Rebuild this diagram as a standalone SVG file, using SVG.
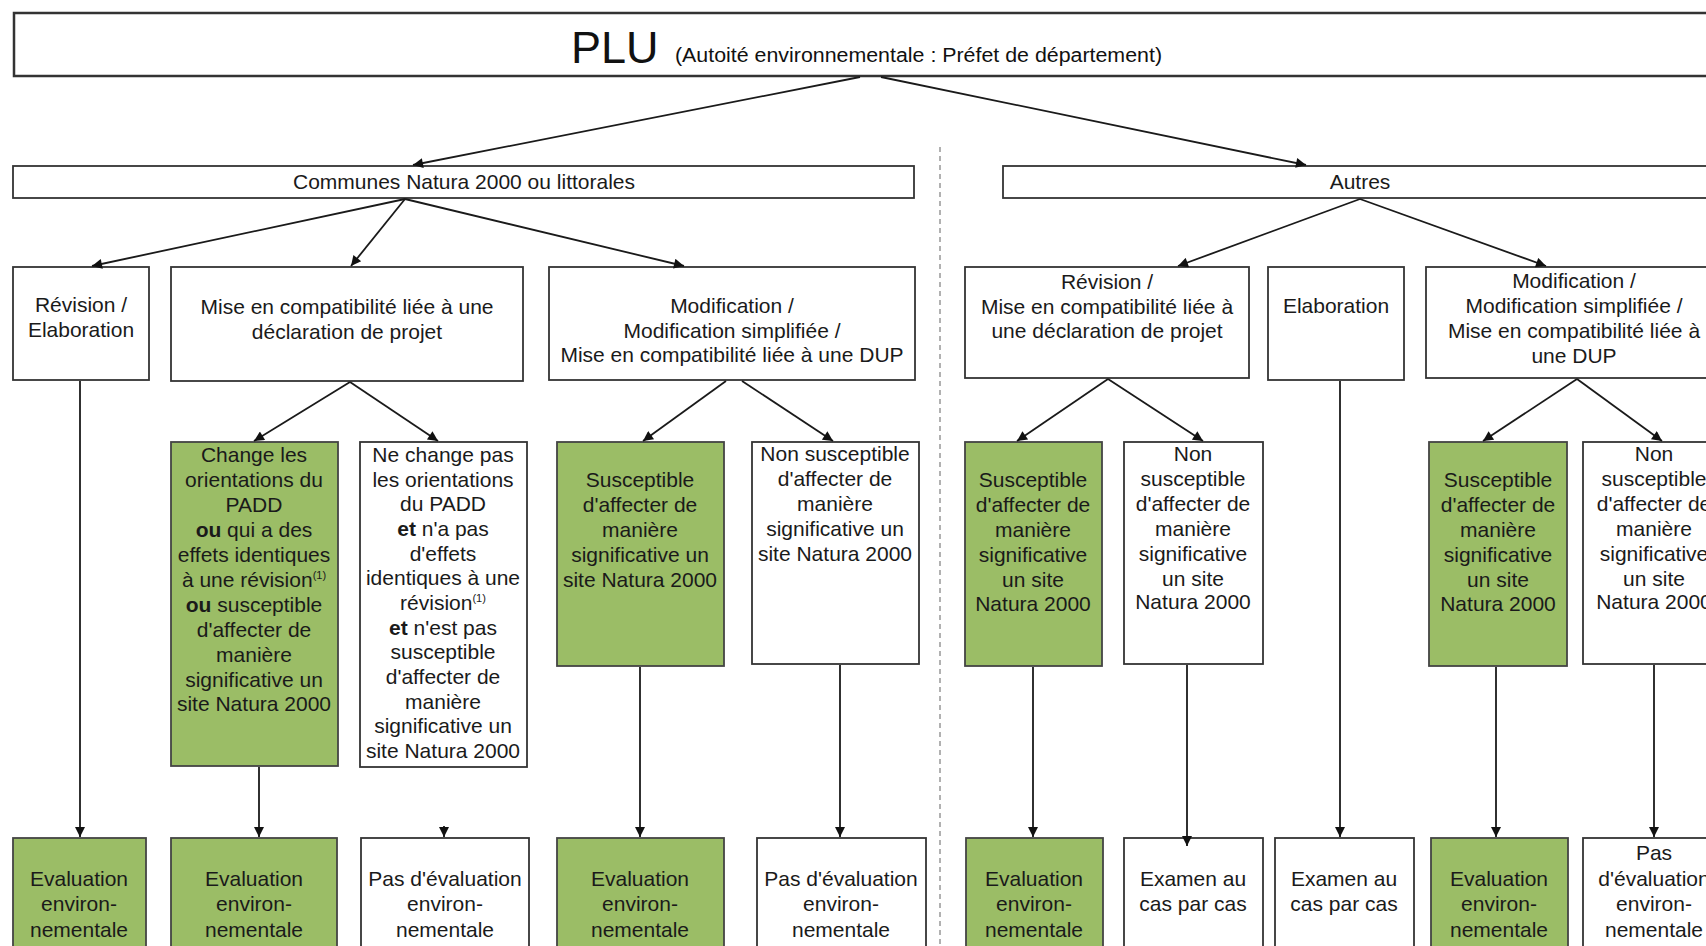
<svg xmlns="http://www.w3.org/2000/svg" width="1706" height="946" viewBox="0 0 1706 946">
<defs>
<style>
.box{fill:#fff;stroke:#333;stroke-width:1.8}
.g{fill:#9bbd66;stroke:#444;stroke-width:1.8}
.t{font-family:"Liberation Sans",Arial,sans-serif;font-size:21px;fill:#1a1a1a;text-anchor:middle}
.b{font-weight:bold}
.sup{font-size:11px}
.c{stroke:#1a1a1a;stroke-width:1.8;fill:none;marker-end:url(#ah)}
</style>
<marker id="ah" viewBox="0 0 10 10" refX="10" refY="5" markerWidth="12" markerHeight="10" markerUnits="userSpaceOnUse" orient="auto">
<path d="M0,0 L10,5 L0,10 z" fill="#111"/>
</marker>
</defs>
<rect width="1706" height="946" fill="#fff"/>

<line x1="940" y1="147" x2="940" y2="946" stroke="#888" stroke-width="1.3" stroke-dasharray="5,4"/>

<g id="plu">
<rect x="14" y="13" width="1720" height="63" fill="#fff" stroke="#333" stroke-width="2.5"/>
<text x="571" y="63" font-family="'Liberation Sans',Arial,sans-serif" font-size="45" fill="#111">PLU</text>
<text x="675" y="62" font-family="'Liberation Sans',Arial,sans-serif" font-size="20" fill="#111" textLength="487" lengthAdjust="spacingAndGlyphs">(Autoité environnementale : Préfet de département)</text>
</g>

<g id="communes">
<rect class="box" x="13" y="166" width="901" height="32"/>
<text class="t" x="464" y="189">Communes Natura 2000 ou littorales</text>
</g>
<g id="autres">
<rect class="box" x="1003" y="166" width="730" height="32"/>
<text class="t" x="1360" y="189">Autres</text>
</g>

<g id="l-revision">
<rect class="box" x="13" y="267" width="136" height="113"/>
<text class="t" x="81" y="312">Révision /</text>
<text class="t" x="81" y="337">Elaboration</text>
</g>
<g id="l-mise">
<rect class="box" x="171" y="267" width="352" height="114"/>
<text class="t" x="347" y="314">Mise en compatibilité liée à une</text>
<text class="t" x="347" y="339">déclaration de projet</text>
</g>
<g id="l-modif">
<rect class="box" x="549" y="267" width="366" height="113"/>
<text class="t" x="732" y="313">Modification /</text>
<text class="t" x="732" y="338">Modification simplifiée /</text>
<text class="t" x="732" y="362">Mise en compatibilité liée à une DUP</text>
</g>
<g id="r-revision">
<rect class="box" x="965" y="267" width="284" height="111"/>
<text class="t" x="1107" y="289">Révision /</text>
<text class="t" x="1107" y="314">Mise en compatibilité liée à</text>
<text class="t" x="1107" y="338">une déclaration de projet</text>
</g>
<g id="r-elab">
<rect class="box" x="1268" y="267" width="136" height="113"/>
<text class="t" x="1336" y="313">Elaboration</text>
</g>
<g id="r-modif">
<rect class="box" x="1426" y="267" width="300" height="111"/>
<text class="t" x="1574" y="288">Modification /</text>
<text class="t" x="1574" y="313">Modification simplifiée /</text>
<text class="t" x="1574" y="338">Mise en compatibilité liée à</text>
<text class="t" x="1574" y="363">une DUP</text>
</g>

<g id="l-change">
<rect class="g" x="171" y="442" width="167" height="324"/>
<text class="t" x="254" y="462">Change les</text>
<text class="t" x="254" y="487">orientations du</text>
<text class="t" x="254" y="512">PADD</text>
<text class="t" x="254" y="537"><tspan class="b">ou</tspan> qui a des</text>
<text class="t" x="254" y="562">effets identiques</text>
<text class="t" x="254" y="587">à une révision<tspan class="sup" dy="-8">(1)</tspan></text>
<text class="t" x="254" y="612"><tspan class="b">ou</tspan> susceptible</text>
<text class="t" x="254" y="637">d'affecter de</text>
<text class="t" x="254" y="662">manière</text>
<text class="t" x="254" y="687">significative un</text>
<text class="t" x="254" y="711">site Natura 2000</text>
</g>
<g id="l-nechange">
<rect class="box" x="360" y="442" width="167" height="325"/>
<text class="t" x="443" y="462">Ne change pas</text>
<text class="t" x="443" y="487">les orientations</text>
<text class="t" x="443" y="511">du PADD</text>
<text class="t" x="443" y="536"><tspan class="b">et</tspan>  n'a pas</text>
<text class="t" x="443" y="561">d'effets</text>
<text class="t" x="443" y="585">identiques à une</text>
<text class="t" x="443" y="610">révision<tspan class="sup" dy="-8">(1)</tspan></text>
<text class="t" x="443" y="635"><tspan class="b">et</tspan> n'est pas</text>
<text class="t" x="443" y="659">susceptible</text>
<text class="t" x="443" y="684">d'affecter de</text>
<text class="t" x="443" y="709">manière</text>
<text class="t" x="443" y="733">significative un</text>
<text class="t" x="443" y="758">site Natura 2000</text>
</g>
<g id="l-susc">
<rect class="g" x="557" y="442" width="167" height="224"/>
<text class="t" x="640" y="487">Susceptible</text>
<text class="t" x="640" y="512">d'affecter de</text>
<text class="t" x="640" y="537">manière</text>
<text class="t" x="640" y="562">significative un</text>
<text class="t" x="640" y="587">site Natura 2000</text>
</g>
<g id="l-nonsusc">
<rect class="box" x="752" y="442" width="167" height="222"/>
<text class="t" x="835" y="461">Non susceptible</text>
<text class="t" x="835" y="486">d'affecter de</text>
<text class="t" x="835" y="511">manière</text>
<text class="t" x="835" y="536">significative un</text>
<text class="t" x="835" y="561">site Natura 2000</text>
</g>
<g id="r-susc">
<rect class="g" x="965" y="442" width="137" height="224"/>
<text class="t" x="1033" y="487">Susceptible</text>
<text class="t" x="1033" y="512">d'affecter de</text>
<text class="t" x="1033" y="537">manière</text>
<text class="t" x="1033" y="562">significative</text>
<text class="t" x="1033" y="587">un site</text>
<text class="t" x="1033" y="611">Natura 2000</text>
</g>
<g id="r-nonsusc">
<rect class="box" x="1124" y="442" width="139" height="222"/>
<text class="t" x="1193" y="461">Non</text>
<text class="t" x="1193" y="486">susceptible</text>
<text class="t" x="1193" y="511">d'affecter de</text>
<text class="t" x="1193" y="536">manière</text>
<text class="t" x="1193" y="561">significative</text>
<text class="t" x="1193" y="586">un site</text>
<text class="t" x="1193" y="609">Natura 2000</text>
</g>
<g id="fr-susc">
<rect class="g" x="1429" y="442" width="138" height="224"/>
<text class="t" x="1498" y="487">Susceptible</text>
<text class="t" x="1498" y="512">d'affecter de</text>
<text class="t" x="1498" y="537">manière</text>
<text class="t" x="1498" y="562">significative</text>
<text class="t" x="1498" y="587">un site</text>
<text class="t" x="1498" y="611">Natura 2000</text>
</g>
<g id="fr-nonsusc">
<rect class="box" x="1583" y="442" width="140" height="222"/>
<text class="t" x="1654" y="461">Non</text>
<text class="t" x="1654" y="486">susceptible</text>
<text class="t" x="1654" y="511">d'affecter de</text>
<text class="t" x="1654" y="536">manière</text>
<text class="t" x="1654" y="561">significative</text>
<text class="t" x="1654" y="586">un site</text>
<text class="t" x="1654" y="609">Natura 2000</text>
</g>

<g id="o1">
<rect class="g" x="13" y="838" width="133" height="130"/>
<text class="t" x="79" y="886">Evaluation</text>
<text class="t" x="79" y="911">environ-</text>
<text class="t" x="79" y="937">nementale</text>
</g>
<g id="o2">
<rect class="g" x="171" y="838" width="166" height="130"/>
<text class="t" x="254" y="886">Evaluation</text>
<text class="t" x="254" y="911">environ-</text>
<text class="t" x="254" y="937">nementale</text>
</g>
<g id="o3">
<rect class="box" x="361" y="838" width="168" height="130"/>
<text class="t" x="445" y="886">Pas d'évaluation</text>
<text class="t" x="445" y="911">environ-</text>
<text class="t" x="445" y="937">nementale</text>
</g>
<g id="o4">
<rect class="g" x="557" y="838" width="167" height="130"/>
<text class="t" x="640" y="886">Evaluation</text>
<text class="t" x="640" y="911">environ-</text>
<text class="t" x="640" y="937">nementale</text>
</g>
<g id="o5">
<rect class="box" x="757" y="838" width="169" height="130"/>
<text class="t" x="841" y="886">Pas d'évaluation</text>
<text class="t" x="841" y="911">environ-</text>
<text class="t" x="841" y="937">nementale</text>
</g>
<g id="o6">
<rect class="g" x="966" y="838" width="137" height="130"/>
<text class="t" x="1034" y="886">Evaluation</text>
<text class="t" x="1034" y="911">environ-</text>
<text class="t" x="1034" y="937">nementale</text>
</g>
<g id="o7">
<rect class="box" x="1124" y="838" width="139" height="130"/>
<text class="t" x="1193" y="886">Examen au</text>
<text class="t" x="1193" y="911">cas par cas</text>
</g>
<g id="o8">
<rect class="box" x="1275" y="838" width="139" height="130"/>
<text class="t" x="1344" y="886">Examen au</text>
<text class="t" x="1344" y="911">cas par cas</text>
</g>
<g id="o9">
<rect class="g" x="1431" y="838" width="137" height="130"/>
<text class="t" x="1499" y="886">Evaluation</text>
<text class="t" x="1499" y="911">environ-</text>
<text class="t" x="1499" y="937">nementale</text>
</g>
<g id="o10">
<rect class="box" x="1583" y="838" width="140" height="130"/>
<text class="t" x="1654" y="860">Pas</text>
<text class="t" x="1654" y="886">d'évaluation</text>
<text class="t" x="1654" y="911">environ-</text>
<text class="t" x="1654" y="937">nementale</text>
</g>

<g id="connectors">
<line class="c" x1="860" y1="77" x2="413" y2="165"/>
<line class="c" x1="881" y1="77" x2="1306" y2="165"/>
<line class="c" x1="405" y1="199" x2="92" y2="266"/>
<line class="c" x1="405" y1="199" x2="351" y2="266"/>
<line class="c" x1="405" y1="199" x2="684" y2="266"/>
<line class="c" x1="1360" y1="199" x2="1178" y2="266"/>
<line class="c" x1="1360" y1="199" x2="1546" y2="266"/>
<line class="c" x1="350" y1="382" x2="254" y2="441"/>
<line class="c" x1="350" y1="382" x2="438" y2="441"/>
<line class="c" x1="726" y1="381" x2="643" y2="441"/>
<line class="c" x1="742" y1="381" x2="833" y2="441"/>
<line class="c" x1="1108" y1="379" x2="1017" y2="441"/>
<line class="c" x1="1108" y1="379" x2="1203" y2="441"/>
<line class="c" x1="1577" y1="379" x2="1483" y2="441"/>
<line class="c" x1="1577" y1="379" x2="1662" y2="441"/>
<line class="c" x1="80" y1="381" x2="80" y2="837"/>
<line class="c" x1="259" y1="767" x2="259" y2="837"/>
<line class="c" x1="444" y1="826" x2="444" y2="837"/>
<line class="c" x1="640" y1="667" x2="640" y2="837"/>
<line class="c" x1="840" y1="665" x2="840" y2="837"/>
<line class="c" x1="1033" y1="667" x2="1033" y2="837"/>
<line class="c" x1="1187" y1="665" x2="1187" y2="846"/>
<line class="c" x1="1340" y1="381" x2="1340" y2="837"/>
<line class="c" x1="1496" y1="667" x2="1496" y2="837"/>
<line class="c" x1="1654" y1="665" x2="1654" y2="837"/>
</g>
</svg>
